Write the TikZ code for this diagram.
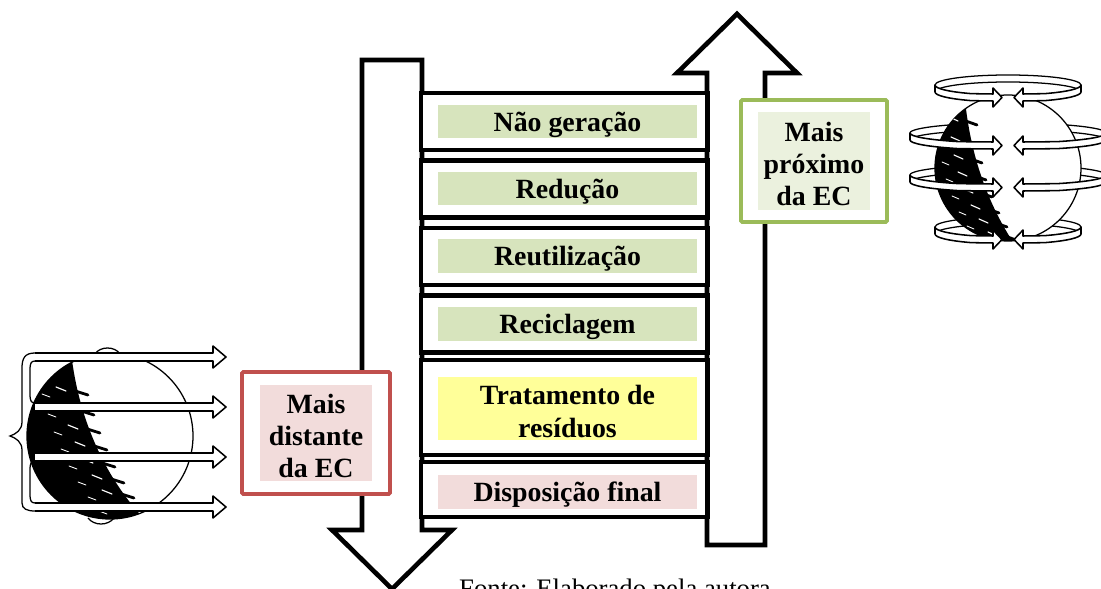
\documentclass[tikz,border=0pt]{standalone}
\usepackage{fontspec}
\setmainfont{Liberation Serif}
\usetikzlibrary{positioning}

\definecolor{greenfill}{HTML}{D7E4BD}
\definecolor{yellowfill}{HTML}{FFFF99}
\definecolor{pinkfill}{HTML}{F2DCDB}
\definecolor{redline}{HTML}{C0504D}
\definecolor{greenline}{HTML}{9BBB59}
\definecolor{palegreen}{HTML}{EBF1DE}

\newcommand{\topstrut}{\rule{0pt}{0.9em}}

\begin{document}
\begin{tikzpicture}[
  x=0.025cm, y=-0.025cm,
  every node/.style = {font=\fontsize{19.8}{23}\selectfont\bfseries, align=center, inner sep=0pt, outer sep=0pt},
  bigarrow/.style = {draw, fill=white, line width=3.3pt},
  levelbox/.style = {draw, fill=white, line width=3.5pt, minimum width=7.15cm},
  fillbox/.style = {minimum width=6.475cm, minimum height=0.825cm, text height=18.6pt, text depth=5pt},
  sidebox/.style = {draw, fill=white, line width=2.8pt, rounded corners=1pt, minimum width=3.7cm, minimum height=3.05cm},
  globe/.style = {line width=0.9pt},
  band/.style = {draw, fill=white, line width=1.1pt, line join=round}
]
  \useasboundingbox (0,0) rectangle (1101,589);

  % the two big arrows
  \draw[bigarrow] (362,60) -- (422,60) -- (422,530) -- (452,530) -- (392,589) -- (332,530) -- (362,530) -- cycle;
  \draw[bigarrow] (707,545) -- (765,545) -- (765,73) -- (797,73) -- (737,14) -- (677,73) -- (707,73) -- cycle;

  % levels
  \node[levelbox, minimum height=1.425cm] (b1) at (564,121.5) {};
  \node[levelbox, minimum height=1.425cm] (b2) at (564,189) {};
  \node[levelbox, minimum height=1.425cm] (b3) at (564,256.5) {};
  \node[levelbox, minimum height=1.425cm] (b4) at (564,324) {};
  \node[levelbox, minimum height=2.375cm] (b5) at (564,407.5) {};
  \node[levelbox, minimum height=1.375cm] (b6) at (564,489.5) {};

  \node[fillbox, fill=greenfill] (naogeracao) at (567.5,121.5) {Não geração};
  \node[fillbox, fill=greenfill] (reducao) at (567.5,188.5) {Redução};
  \node[fillbox, fill=greenfill] (reutilizacao) at (567.5,256) {Reutilização};
  \node[fillbox, fill=greenfill] (reciclagem) at (567.5,324) {Reciclagem};
  \node[fill=yellowfill, minimum width=6.475cm, minimum height=1.575cm] (tratamento) at (567.5,408.5) {\topstrut Tratamento de\\resíduos};
  \node[fillbox, fill=pinkfill] (disposicao) at (567.5,492) {Disposição final};

  % side labels
  \node[sidebox, draw=redline] (distante) at (316,433) {};
  \node[fill=pinkfill, minimum width=2.8cm, minimum height=2.375cm] at (distante) {\topstrut Mais\\distante\\da EC};
  \node[sidebox, draw=greenline, minimum width=3.65cm] (proximo) at (814,161) {};
  \node[fill=palegreen, minimum width=2.775cm, minimum height=2.425cm] at (proximo) {\topstrut Mais\\próximo\\da EC};

  % globe on the left
  \draw[globe, fill=white] (110,436) circle[radius=83];
  \draw[globe] (95,354) .. controls (100,346) and (115,346) .. (120,354);
  \draw[globe] (88,518) .. controls (94,526) and (108,526) .. (114,518);
  \begin{scope}
    \clip (110,436) circle[radius=83];
    \fill (20,350) -- (72,360) .. controls (80,420) and (105,480) .. (150,525) -- (20,525) -- cycle;
    \foreach \x/\y in {76/390, 82/410, 88/428, 95/445, 103/462, 112/478, 122/493, 133/507} {
      \draw[line width=2pt, line cap=round] (\x-4,\y) -- ++(16,5);
      \draw[white, line width=0.8pt, line cap=round] (\x-20,\y-3) -- ++(10,4);
      \draw[white, line width=0.6pt, line cap=round] (\x-34,\y+4) -- ++(8,3);
    }
  \end{scope}
  \foreach \y in {357,407,457,507}
    \draw[band] (35,\y-4) -- (213,\y-4) -- (213,\y-11) -- (226,\y) -- (213,\y+11) -- (213,\y+4) -- (35,\y+4);
  \draw[globe] (35,353) .. controls (25,353) and (22,358) .. (22,368) -- (22,422)
    .. controls (22,430) and (16,434) .. (10,436) .. controls (16,438) and (22,442) .. (22,450)
    -- (22,503) .. controls (22,509) and (27,511) .. (35,511);
  \foreach \y in {357,407,457}
    \draw[globe] (35,\y+4) .. controls (31,\y+4) and (30,\y+7) .. (30,\y+12) -- (30,\y+38)
      .. controls (30,\y+43) and (31,\y+46) .. (35,\y+46);

  % globe on the right
  \foreach \cy/\a in {85/73, 133/98, 175/98, 227/73} {
    \draw[globe] (1008-\a,\cy) arc[start angle=180, end angle=360, x radius=\a, y radius=10];
    \draw[globe] (1008-\a,\cy+7) arc[start angle=180, end angle=360, x radius=\a, y radius=10];
    \draw[globe] (1008+\a,\cy) -- (1008+\a,\cy+7);
  }
  \draw[globe, fill=white] (1008,168) circle[radius=73];
  \begin{scope}
    \clip (1008,168) circle[radius=73];
    \fill (930,90) -- (965,100) .. controls (970,150) and (985,200) .. (1015,245) -- (930,245) -- cycle;
    \foreach \x/\y in {967/120, 969/140, 972/158, 976/175, 982/192, 989/208, 997/222, 1006/235} {
      \draw[line width=2pt, line cap=round] (\x-4,\y) -- ++(14,5);
      \draw[white, line width=0.8pt, line cap=round] (\x-18,\y-3) -- ++(9,4);
      \draw[white, line width=0.6pt, line cap=round] (\x-30,\y+4) -- ++(7,3);
    }
  \end{scope}
  \foreach \cy/\a in {85/73, 133/98, 175/98, 227/73} {
    \draw[band] (1008-\a,\cy+7) -- (1008-\a,\cy) arc[start angle=180, end angle=120, x radius=\a, y radius=10]
      -- (993,\cy+9) -- (993,\cy+3) -- (1002,\cy+12.5) -- (993,\cy+22) -- (993,\cy+16)
      -- ({1008-\a/2},{\cy+15.66}) arc[start angle=120, end angle=180, x radius=\a, y radius=10] -- cycle;
    \draw[band] (1008+\a,\cy+7) -- (1008+\a,\cy) arc[start angle=0, end angle=60, x radius=\a, y radius=10]
      -- (1023,\cy+9) -- (1023,\cy+3) -- (1014,\cy+12.5) -- (1023,\cy+22) -- (1023,\cy+16)
      -- ({1008+\a/2},{\cy+15.66}) arc[start angle=60, end angle=0, x radius=\a, y radius=10] -- cycle;
  }

  \node[font=\fontsize{19}{22}\selectfont, anchor=base] (fonte) at (615,598) {Fonte: Elaborado pela autora};
\end{tikzpicture}
\end{document}
